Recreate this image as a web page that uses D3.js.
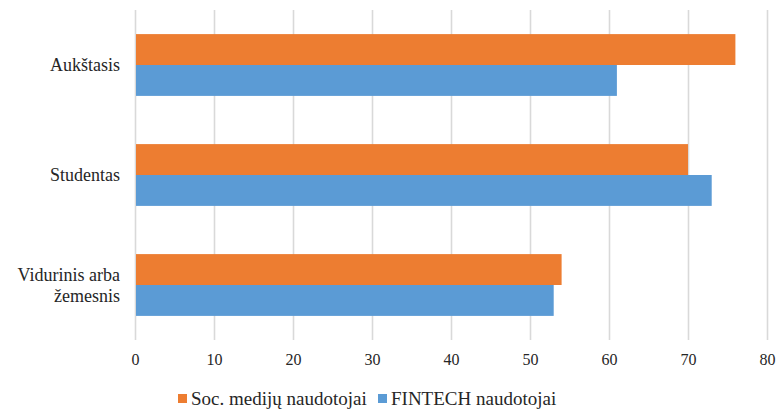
<!DOCTYPE html>
<html>
<head>
<meta charset="utf-8">
<script src="https://cdn.jsdelivr.net/npm/d3@7"></script>
<style>
  body { margin: 0; background: #fff; }
  text { font-family: "Liberation Serif", "Times New Roman", serif; fill: #262626; }
</style>
</head>
<body>
<div id="chart"></div>
<script>
// horizontal grouped bars, two series per education level

const categories = ["Aukštasis", "Studentas", "Vidurinis arba žemesnis"];
const series = ["Soc. medijų naudotojai", "FINTECH naudotojai"];
const socValues = [76, 70, 54];
const fintechValues = [61, 73, 53];
const xTicks = [0, 10, 20, 30, 40, 50, 60, 70, 80];
const colors = ["#ED7D31", "#5B9BD5"];

const width = 778;
const height = 410;

const rows = categories.map((c, i) => ({
  name: c,
  values: [socValues[i], fintechValues[i]]
}));

const svg = d3.select("#chart").append("svg")
  .attr("width", width)
  .attr("height", height);

const x = d3.scaleLinear()
  .domain([0, 80])
  .range([135, 767]);

const y = d3.scaleBand()
  .domain(categories)
  .range([10, 340]);

const ySub = d3.scaleBand()
  .domain(series)
  .range([0, y.bandwidth()])
  .paddingOuter(0.78)
  .paddingInner(0);

// vertical grid
svg.append("g")
  .attr("class", "grid")
  .attr("transform", "translate(0, 340)")
  .call(d3.axisBottom(x)
    .tickValues(xTicks)
    .tickSize(-330)
    .tickFormat(""))
  .call(g => g.select(".domain").remove())
  .call(g => g.selectAll("line").attr("stroke", "#d9d9d9").attr("stroke-width", 1.6));

// x tick labels
svg.append("g")
  .attr("transform", "translate(0, 340)")
  .call(d3.axisBottom(x).tickValues(xTicks).tickSize(0).tickPadding(14))
  .call(g => g.select(".domain").remove())
  .call(g => g.selectAll("text")
    .style("font-size", "16px")
    .style("font-family", "Liberation Serif"));

const groups = svg.selectAll(".cat")
  .data(rows)
  .enter()
  .append("g")
  .attr("class", "cat")
  .attr("transform", d => `translate(0, ${y(d.name)})`);

groups.selectAll("rect")
  .data(d => d.values.map((v, i) => ({ key: series[i], value: v, color: colors[i] })))
  .enter()
  .append("rect")
  .attr("x", x(0) + 1)
  .attr("y", d => ySub(d.key))
  .attr("width", d => x(d.value) - x(0) - 1)
  .attr("height", ySub.bandwidth())
  .attr("fill", d => d.color);

// category labels, wrapped like the original
const labelLines = {
  "Aukštasis": ["Aukštasis"],
  "Studentas": ["Studentas"],
  "Vidurinis arba žemesnis": ["Vidurinis arba", "žemesnis"]
};

groups.append("text")
  .attr("text-anchor", "end")
  .style("font-size", "18px")
  .each(function(d) {
    const lines = labelLines[d.name];
    const t = d3.select(this);
    const mid = y.bandwidth() / 2;
    const lh = 21;
    lines.forEach((l, i) => {
      t.append("tspan")
        .attr("x", 120)
        .attr("y", mid + (i - (lines.length - 1) / 2) * lh)
        .attr("dy", "0.35em")
        .text(l);
    });
  });

// legend
const legendX = [178, 378];
const legend = svg.selectAll(".legend")
  .data(series)
  .enter()
  .append("g")
  .attr("class", "legend")
  .attr("transform", (d, i) => `translate(${legendX[i]}, 398)`);

legend.append("rect")
  .attr("x", 0)
  .attr("y", -4)
  .attr("width", 9)
  .attr("height", 9)
  .attr("fill", (d, i) => colors[i]);

legend.append("text")
  .attr("x", 13)
  .attr("y", 0)
  .attr("dy", "0.35em")
  .style("font-size", "19px")
  .text(d => d);
</script>
</body>
</html>
